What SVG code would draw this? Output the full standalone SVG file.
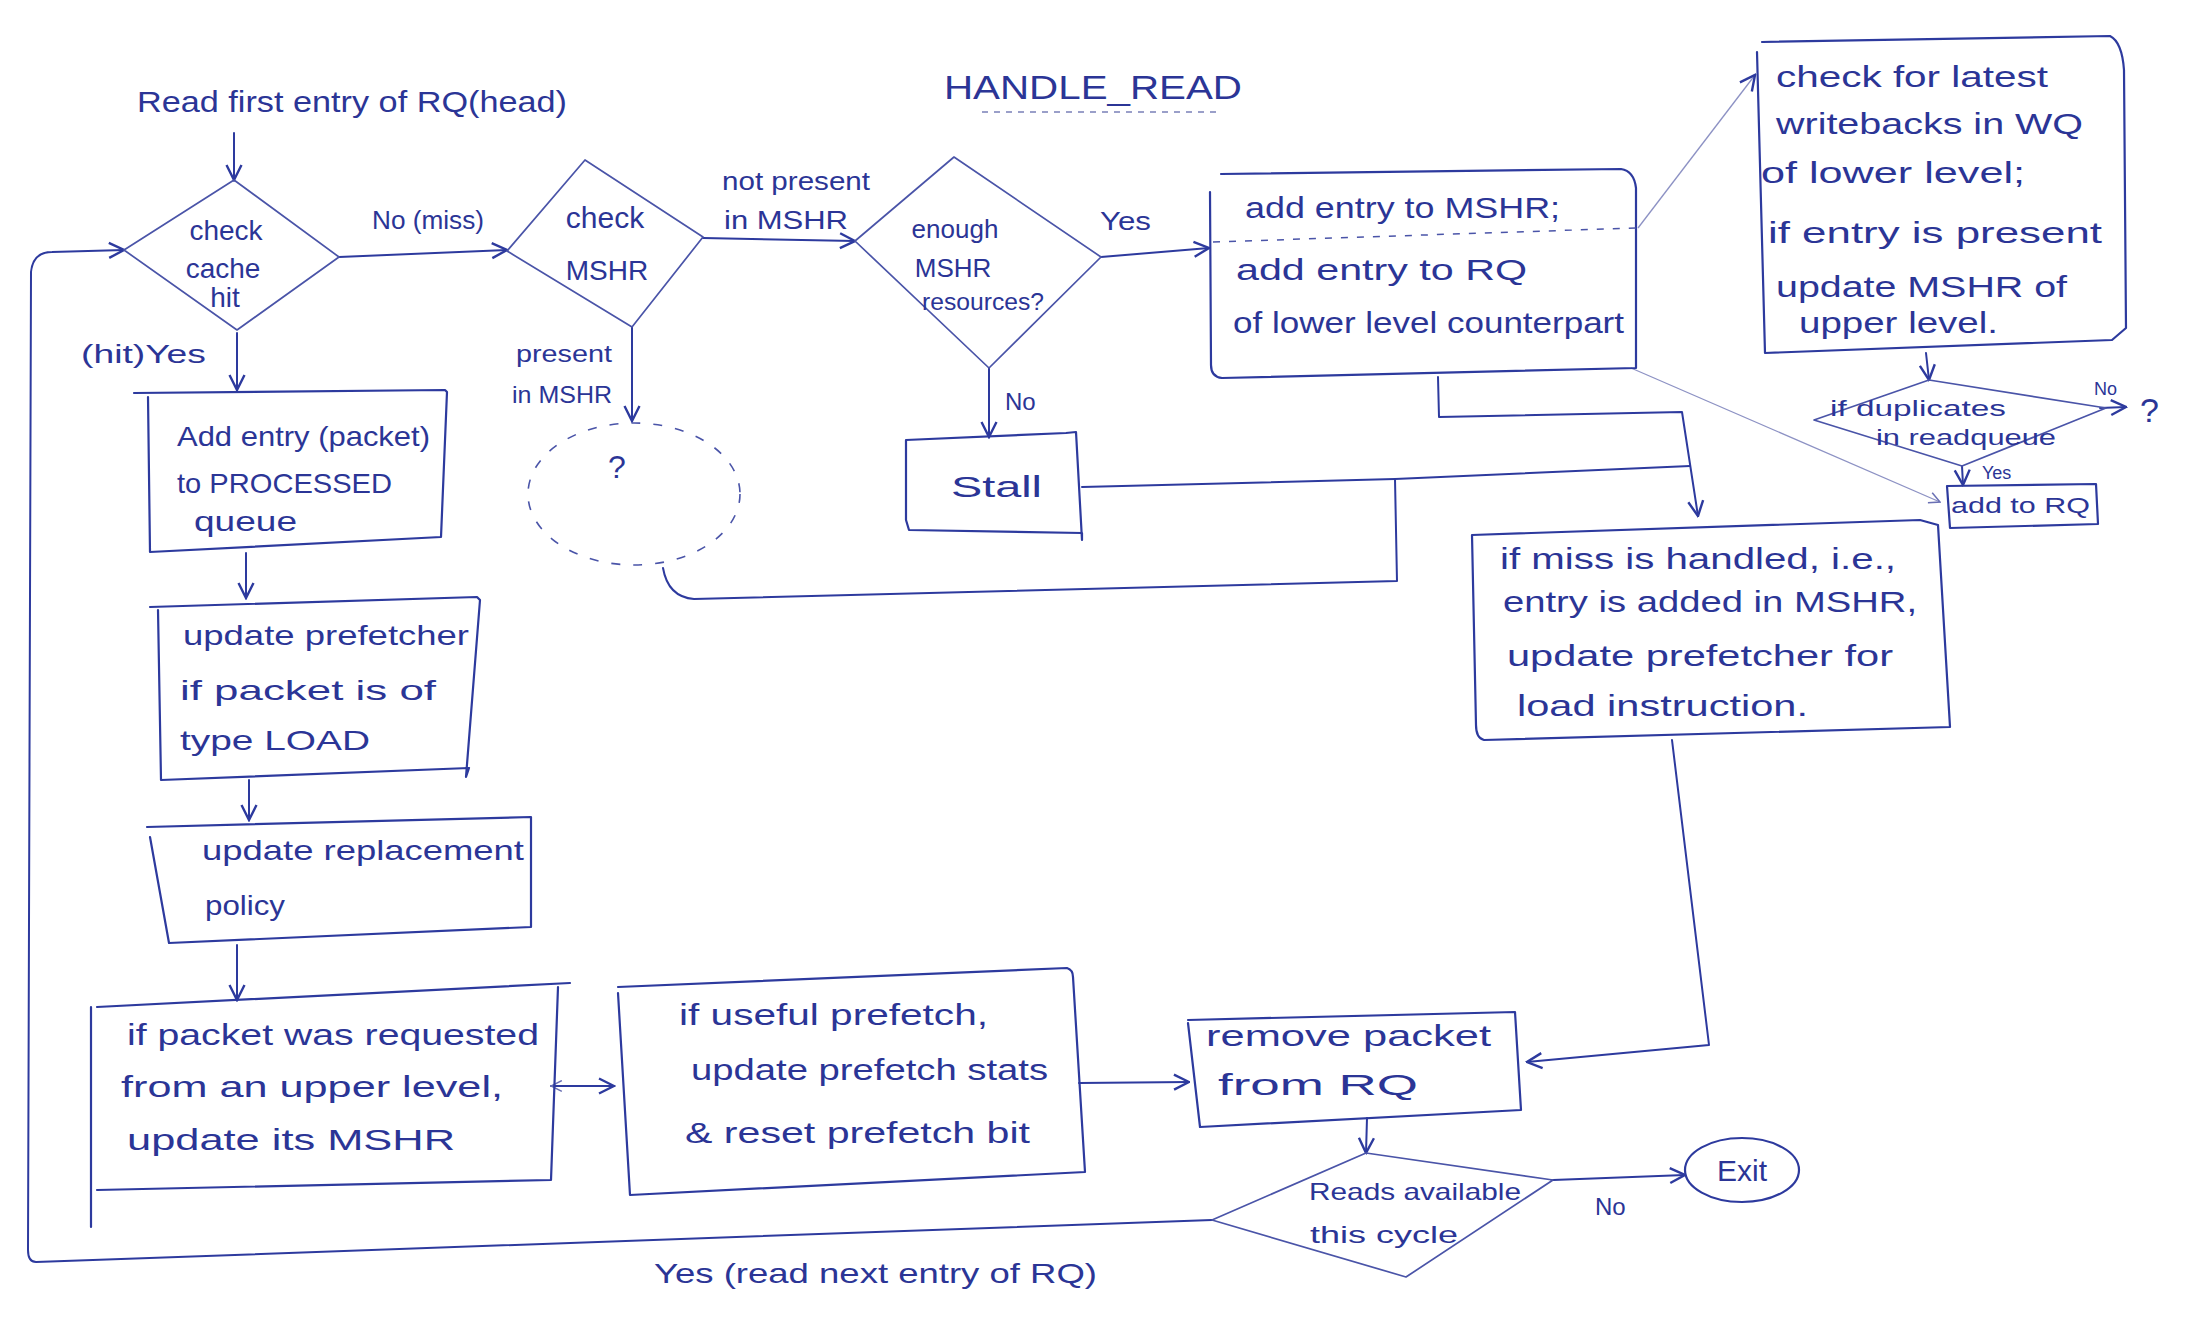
<svg xmlns="http://www.w3.org/2000/svg" width="2200" height="1318" viewBox="0 0 2200 1318">
<defs>
<style>
.t{font-family:"Liberation Sans","DejaVu Sans",Arial,sans-serif;fill:#2b3596;}
.box{fill:none;stroke:#2d3a9e;stroke-width:2.2;stroke-linejoin:round;stroke-linecap:round;}
.dia{fill:none;stroke:#4a54a8;stroke-width:1.7;stroke-linejoin:round;}
.ln{fill:none;stroke:#2d3a9e;stroke-width:2;stroke-linecap:round;stroke-linejoin:round;}
.thin{fill:none;stroke:#8d92c4;stroke-width:1.3;}
.dash{fill:none;stroke:#4a54a8;stroke-width:1.6;stroke-dasharray:9 13;}
</style>
<marker id="ah" viewBox="0 0 12 12" refX="11" refY="6" markerWidth="18" markerHeight="18" markerUnits="userSpaceOnUse" orient="auto-start-reverse">
<path d="M1,1 L11,6 L1,11" fill="none" stroke="#2d3a9e" stroke-width="1.6"/>
</marker>
<marker id="ahs" viewBox="0 0 12 12" refX="11" refY="6" markerWidth="13" markerHeight="13" markerUnits="userSpaceOnUse" orient="auto-start-reverse">
<path d="M1,1 L11,6 L1,11" fill="none" stroke="#6a70b4" stroke-width="1.4"/>
</marker>
</defs>
<rect width="2200" height="1318" fill="#ffffff"/>

<g id="title">
<text class="t" x="944" y="99" font-size="34" textLength="298" lengthAdjust="spacingAndGlyphs">HANDLE_READ</text>
<line x1="982" y1="112" x2="1222" y2="112" stroke="#7a80b8" stroke-width="1.4" stroke-dasharray="6 6"/>
</g>

<g id="start">
<text class="t" x="137" y="112" font-size="30" textLength="430" lengthAdjust="spacingAndGlyphs">Read first entry of RQ(head)</text>
</g>

<g id="connectors">
<path class="ln" d="M234,133 L234,180" marker-end="url(#ah)"/>
<path class="ln" d="M339,257 L507,250" marker-end="url(#ah)"/>
<path class="ln" d="M237,333 L237,390" marker-end="url(#ah)"/>
<path class="ln" d="M703,238 L855,241" marker-end="url(#ah)"/>
<path class="ln" d="M632,327 L632,421" marker-end="url(#ah)"/>
<path class="ln" d="M1101,257 L1209,248" marker-end="url(#ah)"/>
<path class="ln" d="M989,368 L989,437" marker-end="url(#ah)"/>
<path class="thin" d="M1638,228 L1755,75" marker-end="url(#ah)"/>
<path class="ln" d="M1438,377 L1439,417 L1682,412 L1698,516" marker-end="url(#ah)"/>
<path class="ln" d="M1082,487 L1395,479 L1690,466"/>
<path class="ln" d="M663,568 Q668,597 694,599 L1397,581 L1395,479"/>
<path class="ln" d="M1926,353 L1929,380" marker-end="url(#ah)"/>
<path class="ln" d="M2100,408 L2126,407" marker-end="url(#ah)"/>
<path class="ln" d="M1962,466 L1963,485" marker-end="url(#ah)"/>
<path class="thin" d="M1631,368 L1940,502" marker-end="url(#ahs)"/>
<path class="ln" d="M1672,740 L1709,1045 L1527,1062" marker-end="url(#ah)"/>
<path class="ln" d="M246,553 L246,598" marker-end="url(#ah)"/>
<path class="ln" d="M249,780 L249,820" marker-end="url(#ah)"/>
<path class="ln" d="M237,945 L237,1000" marker-end="url(#ah)"/>
<path class="ln" d="M551,1086 L614,1086" marker-start="url(#ahs)" marker-end="url(#ah)"/>
<path class="ln" d="M1079,1083 L1189,1082" marker-end="url(#ah)"/>
<path class="ln" d="M1367,1118 L1366,1153" marker-end="url(#ah)"/>
<path class="ln" d="M1553,1180 L1685,1175" marker-end="url(#ah)"/>
<path class="ln" d="M1212,1220 L36,1262 Q28,1262 28,1250 L31,272 Q33,252 52,252 L124,250" marker-end="url(#ah)"/>
</g>

<g id="checkCacheHit">
<polygon class="dia" points="234,180 339,257 237,330 124,250"/>
<text class="t" x="226" y="240" font-size="28" text-anchor="middle">check</text>
<text class="t" x="223" y="278" font-size="28" text-anchor="middle">cache</text>
<text class="t" x="225" y="307" font-size="28" text-anchor="middle">hit</text>
</g>
<g id="lblNoMiss"><text class="t" x="372" y="229" font-size="26" textLength="112" lengthAdjust="spacingAndGlyphs">No (miss)</text></g>
<g id="lblHitYes"><text class="t" x="81" y="363" font-size="26" textLength="125" lengthAdjust="spacingAndGlyphs">(hit)Yes</text></g>

<g id="checkMSHR">
<polygon class="dia" points="585,160 703,237 632,327 507,251"/>
<text class="t" x="605" y="228" font-size="30" text-anchor="middle">check</text>
<text class="t" x="607" y="280" font-size="28" text-anchor="middle">MSHR</text>
</g>
<g id="lblPresent">
<text class="t" x="516" y="362" font-size="24" textLength="96" lengthAdjust="spacingAndGlyphs">present</text>
<text class="t" x="512" y="403" font-size="24" textLength="100" lengthAdjust="spacingAndGlyphs">in MSHR</text>
</g>
<g id="lblNotPresent">
<text class="t" x="722" y="190" font-size="26" textLength="148" lengthAdjust="spacingAndGlyphs">not present</text>
<text class="t" x="724" y="229" font-size="26" textLength="124" lengthAdjust="spacingAndGlyphs">in MSHR</text>
</g>

<g id="unknown">
<ellipse class="dash" cx="634" cy="494" rx="106" ry="71"/>
<text class="t" x="617" y="478" font-size="32" text-anchor="middle">?</text>
</g>

<g id="enoughMSHR">
<polygon class="dia" points="954,157 1101,257 989,368 855,241"/>
<text class="t" x="955" y="238" font-size="26" text-anchor="middle">enough</text>
<text class="t" x="953" y="277" font-size="26" text-anchor="middle">MSHR</text>
<text class="t" x="922" y="310" font-size="24" textLength="122" lengthAdjust="spacingAndGlyphs">resources?</text>
</g>
<g id="lblYes1"><text class="t" x="1100" y="230" font-size="26" textLength="51" lengthAdjust="spacingAndGlyphs">Yes</text></g>
<g id="lblNo1"><text class="t" x="1005" y="410" font-size="24">No</text></g>

<g id="stall">
<path class="box" d="M906,440 L1066,433 L1076,432 L1082,540 L1082,533 L909,530 L906,520 Z"/>
<text class="t" x="951" y="497" font-size="30" textLength="91" lengthAdjust="spacingAndGlyphs">Stall</text>
</g>

<g id="addEntryMSHR">
<path class="box" d="M1221,174 L1621,169 Q1634,171 1636,188 L1636,368 L1222,378 Q1211,377 1211,365 L1210,192"/>
<line x1="1213" y1="242" x2="1636" y2="228" stroke="#4a54a8" stroke-width="1.5" stroke-dasharray="7 9"/>
<text class="t" x="1245" y="218" font-size="30" textLength="315" lengthAdjust="spacingAndGlyphs">add entry to MSHR;</text>
<text class="t" x="1236" y="280" font-size="30" textLength="291" lengthAdjust="spacingAndGlyphs">add entry to RQ</text>
<text class="t" x="1233" y="333" font-size="30" textLength="391" lengthAdjust="spacingAndGlyphs">of lower level counterpart</text>
</g>

<g id="checkWQ">
<path class="box" d="M1762,42 L2110,36 Q2122,42 2124,70 L2126,328 L2112,340 L1765,353 L1757,52"/>
<text class="t" x="1776" y="87" font-size="30" textLength="272" lengthAdjust="spacingAndGlyphs">check for latest</text>
<text class="t" x="1776" y="134" font-size="30" textLength="307" lengthAdjust="spacingAndGlyphs">writebacks in WQ</text>
<text class="t" x="1761" y="183" font-size="30" textLength="264" lengthAdjust="spacingAndGlyphs">of lower level;</text>
<text class="t" x="1768" y="243" font-size="30" textLength="334" lengthAdjust="spacingAndGlyphs">if entry is present</text>
<text class="t" x="1776" y="297" font-size="30" textLength="291" lengthAdjust="spacingAndGlyphs">update MSHR of</text>
<text class="t" x="1799" y="333" font-size="30" textLength="199" lengthAdjust="spacingAndGlyphs">upper level.</text>
</g>

<g id="duplicates">
<polygon class="dia" points="1929,380 2106,408 1962,466 1814,420"/>
<text class="t" x="1830" y="416" font-size="22" textLength="176" lengthAdjust="spacingAndGlyphs">if duplicates</text>
<text class="t" x="1876" y="445" font-size="22" textLength="180" lengthAdjust="spacingAndGlyphs">in readqueue</text>
</g>
<g id="lblNo2"><text class="t" x="2094" y="395" font-size="18">No</text></g>
<g id="unknown2"><text class="t" x="2140" y="422" font-size="34">?</text></g>
<g id="lblYes2"><text class="t" x="1982" y="479" font-size="18">Yes</text></g>

<g id="addToRQ">
<path class="box" d="M1947,486 L2096,484 L2098,524 L1950,528 Z"/>
<text class="t" x="1951" y="513" font-size="22" textLength="139" lengthAdjust="spacingAndGlyphs">add to RQ</text>
</g>

<g id="missHandled">
<path class="box" d="M1472,535 L1920,520 L1938,525 L1950,727 L1484,740 Q1476,738 1476,725 Z"/>
<text class="t" x="1500" y="569" font-size="30" textLength="396" lengthAdjust="spacingAndGlyphs">if miss is handled, i.e.,</text>
<text class="t" x="1503" y="612" font-size="30" textLength="414" lengthAdjust="spacingAndGlyphs">entry is added in MSHR,</text>
<text class="t" x="1507" y="666" font-size="30" textLength="386" lengthAdjust="spacingAndGlyphs">update prefetcher for</text>
<text class="t" x="1517" y="716" font-size="30" textLength="291" lengthAdjust="spacingAndGlyphs">load instruction.</text>
</g>

<g id="processed">
<path class="box" d="M134,393 L445,390 L447,392 L441,537 L150,552 L148,397"/>
<text class="t" x="177" y="446" font-size="28" textLength="253" lengthAdjust="spacingAndGlyphs">Add entry (packet)</text>
<text class="t" x="177" y="493" font-size="28" textLength="215" lengthAdjust="spacingAndGlyphs">to PROCESSED</text>
<text class="t" x="194" y="531" font-size="28" textLength="103" lengthAdjust="spacingAndGlyphs">queue</text>
</g>

<g id="updatePrefetcher">
<path class="box" d="M150,607 L477,597 L480,600 L466,777 L469,768 L161,780 L158,610"/>
<text class="t" x="183" y="645" font-size="28" textLength="286" lengthAdjust="spacingAndGlyphs">update prefetcher</text>
<text class="t" x="180" y="700" font-size="28" textLength="256" lengthAdjust="spacingAndGlyphs">if packet is of</text>
<text class="t" x="180" y="750" font-size="28" textLength="190" lengthAdjust="spacingAndGlyphs">type LOAD</text>
</g>

<g id="replacement">
<path class="box" d="M147,827 L531,817 L531,927 L169,943 L150,837"/>
<text class="t" x="202" y="860" font-size="28" textLength="322" lengthAdjust="spacingAndGlyphs">update replacement</text>
<text class="t" x="205" y="915" font-size="28" textLength="80" lengthAdjust="spacingAndGlyphs">policy</text>
</g>

<g id="upperMSHR">
<path class="box" d="M97,1007 L570,983 M558,987 L551,1180 L97,1190 M91,1007 L91,1227"/>
<text class="t" x="127" y="1045" font-size="30" textLength="412" lengthAdjust="spacingAndGlyphs">if packet was requested</text>
<text class="t" x="121" y="1097" font-size="30" textLength="382" lengthAdjust="spacingAndGlyphs">from an upper level,</text>
<text class="t" x="127" y="1150" font-size="30" textLength="328" lengthAdjust="spacingAndGlyphs">update its MSHR</text>
</g>

<g id="usefulPrefetch">
<path class="box" d="M618,987 L1067,968 Q1073,970 1073,977 L1085,1172 L630,1195 L618,993"/>
<text class="t" x="679" y="1025" font-size="30" textLength="309" lengthAdjust="spacingAndGlyphs">if useful prefetch,</text>
<text class="t" x="691" y="1080" font-size="30" textLength="357" lengthAdjust="spacingAndGlyphs">update prefetch stats</text>
<text class="t" x="685" y="1143" font-size="30" textLength="345" lengthAdjust="spacingAndGlyphs">&amp; reset prefetch bit</text>
</g>

<g id="removePacket">
<path class="box" d="M1188,1020 L1515,1012 L1521,1110 L1200,1127 L1188,1023"/>
<text class="t" x="1206" y="1046" font-size="30" textLength="285" lengthAdjust="spacingAndGlyphs">remove packet</text>
<text class="t" x="1218" y="1095" font-size="30" textLength="200" lengthAdjust="spacingAndGlyphs">from RQ</text>
</g>

<g id="readsAvailable">
<polygon class="dia" points="1366,1153 1553,1180 1406,1277 1212,1220"/>
<text class="t" x="1309" y="1200" font-size="24" textLength="212" lengthAdjust="spacingAndGlyphs">Reads available</text>
<text class="t" x="1310" y="1243" font-size="24" textLength="148" lengthAdjust="spacingAndGlyphs">this cycle</text>
</g>
<g id="lblNo3"><text class="t" x="1595" y="1215" font-size="24">No</text></g>
<g id="lblYesLoop"><text class="t" x="654" y="1283" font-size="28" textLength="443" lengthAdjust="spacingAndGlyphs">Yes (read next entry of RQ)</text></g>

<g id="exit">
<ellipse class="box" cx="1742" cy="1170" rx="57" ry="32"/>
<text class="t" x="1742" y="1181" font-size="30" text-anchor="middle">Exit</text>
</g>
</svg>
